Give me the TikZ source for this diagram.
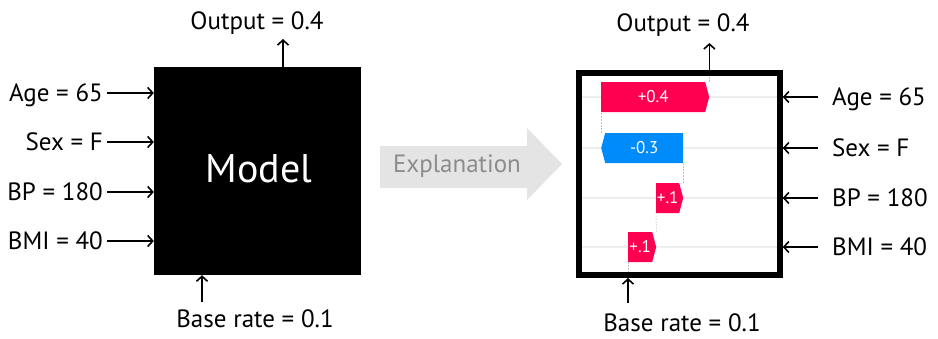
\documentclass[tikz,border=0pt]{standalone}
\usepackage{fontspec}
\setmainfont{PT Sans}
\usetikzlibrary{arrows.meta,shapes.symbols,positioning}
\definecolor{rouge}{HTML}{FF0051}
\definecolor{bleu}{HTML}{008BFB}
\definecolor{grisfleche}{HTML}{E4E4E4}
\definecolor{gristexte}{HTML}{8C8C8C}
\definecolor{grisligne}{HTML}{EEEEEE}
\definecolor{grispointille}{HTML}{C4C4C4}

\begin{document}
\begin{tikzpicture}[x=1pt,y=-1pt,>={Straight Barb[length=5pt,width=11pt]}]
%styles de la figure
\tikzset{etiq/.style={inner sep=0pt,text height=17.5pt,text depth=0pt,font=\fontsize{25}{30}\selectfont},
fleche/.style={->,line width=1.6pt},
barre/.style={signal,signal pointer angle=150,signal from=nowhere,inner sep=0pt,minimum height=30pt,text=white,font=\fontsize{17}{20}\selectfont},
guide/.style={grispointille,line width=0.6pt,dash pattern=on 1.5pt off 1.5pt}}
\useasboundingbox (0,0) rectangle (938,338);

%modele (boite noire)
\node[fill=black,minimum width=207pt,minimum height=208pt,inner sep=0pt] (model) at (257.5,171) {};
\node[text=white,inner sep=0pt,text height=28pt,text depth=0pt,font=\fontsize{40}{48}\selectfont] (mot) at (259,168) {Model};
\node[etiq,anchor=east] (age) at (103,93) {Age = 65};
\node[etiq,anchor=east] (sex) at (103,142) {Sex = F};
\node[etiq,anchor=east] (bp) at (103,192) {BP = 180};
\node[etiq,anchor=east] (bmi) at (103,241) {BMI = 40};
\foreach \v in {age,sex,bp,bmi}
  \draw[fleche,shorten <=4pt] (\v) -- (\v -| model.west);
\node[etiq] (out) at (257,21) {Output = 0.4};
\coordinate (outp) at (283,39);
\draw[fleche] (outp |- model.north) -- (outp);
\node[etiq] (base) at (255,319) {Base rate = 0.1};
\coordinate (basep) at (202,302);
\draw[fleche] (basep) -- (basep |- model.south);

%fleche explication
\fill[grisfleche] (380,146) -- (527,146) -- (527,128) -- (562,164) -- (527,200) -- (527,188) -- (380,188) -- cycle;
\node[etiq,text=gristexte] (expl) at (457,164) {Explanation};

%explication (cascade)
\node[etiq,anchor=west] (rage) at (832,97) {Age = 65};
\node[etiq,anchor=west] (rsex) at (832,148) {Sex = F};
\node[etiq,anchor=west] (rbp) at (832,198) {BP = 180};
\node[etiq,anchor=west] (rbmi) at (832,247) {BMI = 40};
\coordinate (boxnw) at (579,73);
\coordinate (boxse) at (780,275);
\foreach \v in {rage,rsex,rbp,rbmi}
  \draw[grisligne,line width=1.2pt] (\v -| boxnw) -- (\v -| boxse);
\node[barre,fill=rouge,signal to=east,anchor=west,minimum width=108pt] (bage) at (601,97) {+0.4};
\node[barre,fill=bleu,signal to=west,anchor=west,minimum width=82pt] (bsex) at (601,148) {-0.3};
\node[barre,fill=rouge,signal to=east,anchor=west,minimum width=27pt] (bbp) at (656,198) {+.1};
\node[barre,fill=rouge,signal to=east,anchor=west,minimum width=28pt] (bbmi) at (628,247) {+.1};
\draw[guide] (bbmi.south west) -- (bbmi.south west |- boxse);
\draw[guide] (bbmi.east |- bbmi.north) -- (bbp.south west);
\draw[guide] (bbp.east |- bbp.north) -- (bsex.south east);
\draw[guide] (bsex.west |- bsex.north) -- (bage.south west);
\draw[guide] (bage.east |- bage.north) -- (bage.east |- boxnw);
\draw[line width=5.5pt] (boxnw) rectangle (boxse);
\foreach \v in {rage,rsex,rbp,rbmi}
  \draw[fleche,shorten <=14pt] (\v) -- ([xshift=2.75pt]\v -| boxse);
\node[etiq] (rout) at (683,23) {Output = 0.4};
\coordinate (routp) at (bage.east |- 0,43);
\draw[fleche] ([yshift=2.75pt]routp |- boxnw) -- (routp);
\node[etiq] (rbase) at (682,323) {Base rate = 0.1};
\coordinate (rbasep) at (628,303);
\draw[fleche] (rbasep) -- ([yshift=-3pt]rbasep |- boxse);
\end{tikzpicture}
\end{document}
